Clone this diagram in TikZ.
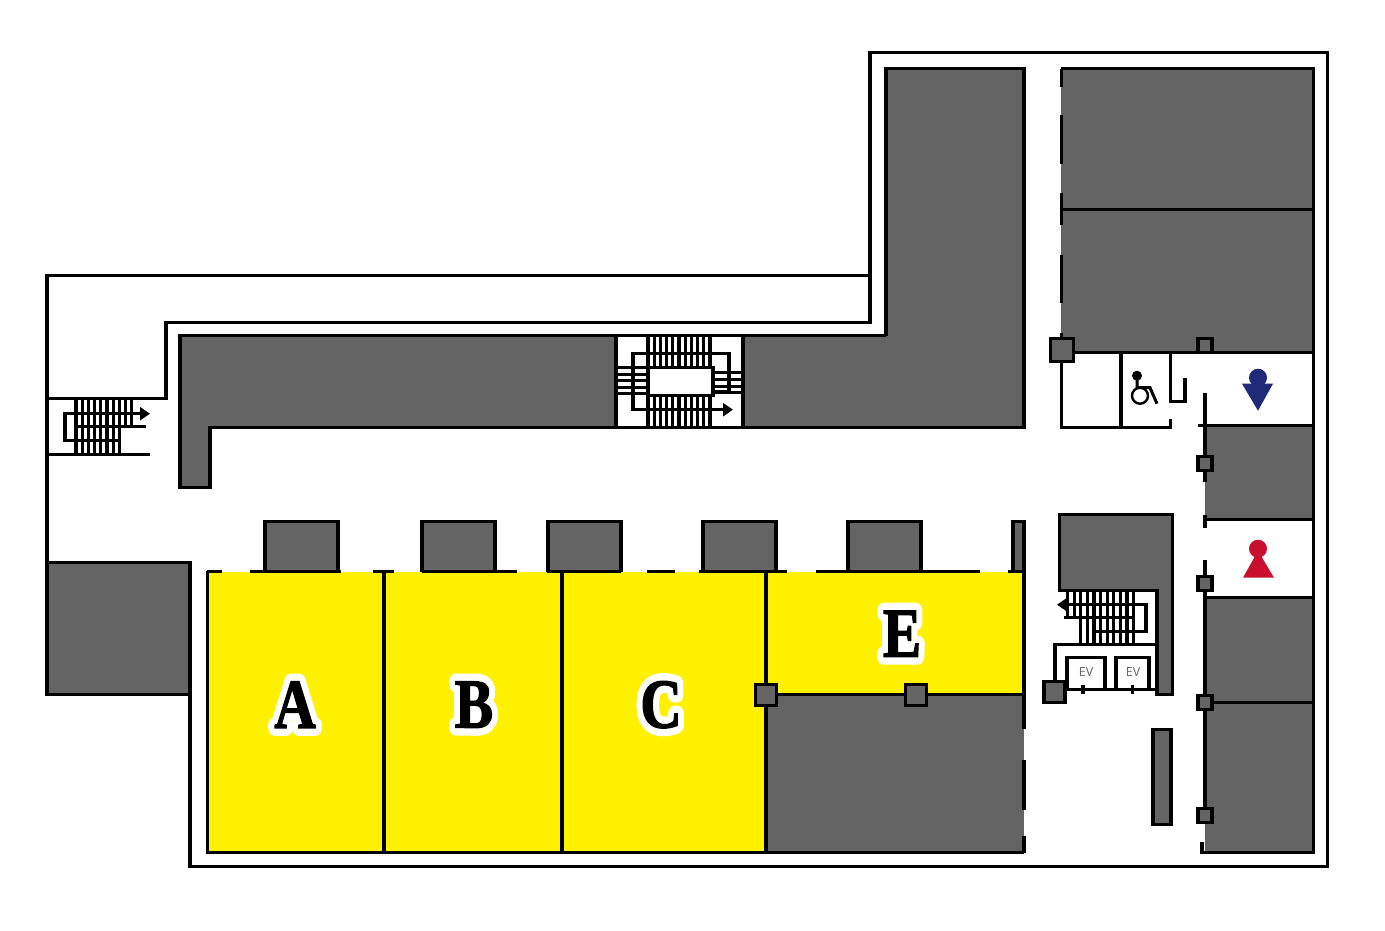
\documentclass[tikz,border=0pt]{standalone}
\usepackage{fontspec}
\setmainfont{Liberation Serif}
\setsansfont{Open Sans}
\newfontfamily\unitfont[FakeBold=2]{Liberation Serif Bold}
\newfontfamily\halofont[FakeBold=23]{Liberation Serif Bold}
\usetikzlibrary{arrows.meta}
\definecolor{roomgray}{HTML}{656464}
\definecolor{unityellow}{HTML}{FFF100}
\definecolor{menblue}{HTML}{1F2A78}
\definecolor{womenred}{HTML}{C8102E}
\newcommand{\unitlabel}[3]{
	\node[halo] (halo#3) at (#1,#2) {\special{pdf:code 1 j 1 J}\halofont\fontsize{70}{70}\selectfont #3};
	\node[unit] (unit#3) at (#1,#2) {\unitfont\fontsize{70}{70}\selectfont #3};
}
\begin{document}
\begin{tikzpicture}[x=1pt,y=-1pt,
wall/.style={line width=3.2pt,line cap=butt,line join=miter},
room/.style={fill=roomgray},
post/.style={fill=roomgray,draw=black,line width=3.2pt},
unit/.style={xscale=.82,inner sep=0pt},
halo/.style={unit,text=white},
ev/.style={font=\sffamily\fontsize{12.5}{13}\selectfont,text=black!60,inner sep=0pt},
rail/.style={line width=3.2pt,-{Triangle[length=10pt,width=13pt]}}]
\useasboundingbox (0,0.3) rectangle (1385,930.3);
\fill[white] (0,0.3) rectangle (1385,930.3);
% yellow units
\fill[unityellow] (207,572) rectangle (1024,853);
% gray rooms
\fill[room] (886,69) -- (1024,69) -- (1024,428) -- (210,428) -- (210,488) -- (180,488) -- (180,336) -- (886,336) -- cycle;
\fill[white] (616,336) rectangle (743,428);
\fill[room] (1061,69) rectangle (1313.5,353);
\fill[room] (1205,425) rectangle (1313.5,520);
\fill[room] (1205,598) rectangle (1313.5,853);
\fill[room] (766,695) rectangle (1024,853);
\fill[room] (47,563) rectangle (190,695);
% outer wall
\draw[wall] (47,563) -- (47,276) -- (870,276) -- (870,53) -- (1327.5,53) -- (1327.5,867) -- (190,867) -- (190,563) -- (47,563) -- (47,695) -- (190,695);
\draw[wall] (47,399) -- (166,399) -- (166,323) -- (870,323) -- (870,276);
% big L room
\draw[wall] (886,336) -- (886,69) -- (1024,69) -- (1024,428) -- (210,428) -- (210,488) -- (180,488) -- (180,336) -- (886,336);
\draw[wall] (616,336) -- (616,428) (743,336) -- (743,428);
% middle stairs
\foreach \x in {0,...,10} {
	\draw[wall] (648+6.2*\x,336) -- (648+6.2*\x,368);
	\draw[wall] (648+6.2*\x,397) -- (648+6.2*\x,428);
}
\foreach \y in {368,375,381,388,394}
	\draw[wall] (616,\y) -- (648,\y);
\foreach \y in {373,380,387,393}
	\draw[wall] (713,\y) -- (743,\y);
\draw[wall,fill=white] (648,368) rectangle (713,396);
\draw[wall] (713,392) -- (729,392) -- (729,354) -- (633,354) -- (633,368);
\draw[rail] (633,368) -- (633,410) -- (733,410);
% left stairs
\foreach \x in {0,...,9}
	\draw[wall] (76+6.2*\x,399) -- (76+6.2*\x,427);
\foreach \x in {0,...,7}
	\draw[wall] (76+6.2*\x,427) -- (76+6.2*\x,455);
\draw[wall] (47,455) -- (150,455);
\draw[wall] (76,427) -- (146,427);
\draw[rail] (120,441) -- (65,441) -- (65,414) -- (150,414);
% top right rooms
\draw[wall] (1061,69) -- (1313.5,69) -- (1313.5,853) -- (1202,853) -- (1202,842);
\draw[wall] (1061,209.5) -- (1313.5,209.5);
\draw[wall] (1061,353) -- (1313.5,353);
\foreach \a/\b in {69/87,115/164,193/225,255/303,333/345}
	\draw[wall] (1061.5,\a) -- (1061.5,\b);
% toilets
\draw[wall] (1061.5,353) -- (1061.5,428) -- (1170.5,428) -- (1170.5,419);
\draw[wall] (1121,353) -- (1121,428);
\draw[wall] (1170.5,353) -- (1170.5,402) -- (1185,402) -- (1185,378);
\draw[wall] (1205,393) -- (1205,482) (1205,515) -- (1205,528);
\draw[wall] (1198,425.5) -- (1313.5,425.5);
\draw[wall] (1205,520) -- (1313.5,520);
\draw[wall] (1205,560) -- (1205,807);
\draw[wall] (1205,598) -- (1313.5,598);
\draw[wall] (1205,703) -- (1313.5,703);
% wheelchair
\fill (1137,376) circle (5);
\draw[line width=2.4pt] (1140,396) circle (8);
\draw[line width=3pt] (1137,380) -- (1137,388) -- (1150,388) -- (1157,404);
% signs
\fill[menblue] (1258,378) circle (9);
\fill[menblue] (1242,384) -- (1273,384) -- (1258,411) -- cycle;
\fill[womenred] (1258,549) circle (9);
\fill[womenred] (1258,551) -- (1274,578) -- (1243,578) -- cycle;
% core with elevators
\draw[wall,room] (1059.5,515) -- (1172.5,515) -- (1172.5,695) -- (1157,695) -- (1157,591) -- (1059.5,591) -- cycle;
\foreach \x in {0,...,10}
	\draw[wall] (1067.5+6.6*\x,591) -- (1067.5+6.6*\x,618);
\foreach \x in {2,...,10}
	\draw[wall] (1067.5+6.6*\x,618) -- (1067.5+6.6*\x,645);
\draw[rail] (1092,632) -- (1146,632) -- (1146,605) -- (1057,605);
\draw[wall] (1064,618) -- (1135,618);
\draw[wall] (1157,645) -- (1055,645) -- (1055,682);
\draw[wall] (1054,689.5) -- (1157,689.5);
\draw[wall] (1067,689) -- (1067,658) -- (1105,658) -- (1105,689);
\draw[wall] (1116,689) -- (1116,658) -- (1149,658) -- (1149,689);
\draw[wall] (1083,685) -- (1083,694) (1132.5,685) -- (1132.5,694);
\node[ev] (eva) at (1086,672.5) {EV};
\node[ev] (evb) at (1133,672.5) {EV};
\draw[wall,room] (1153,729.5) rectangle (1171,825);
% front stores
\foreach \a/\b in {265/338,422/495,548/621,703/776,848/921,1013/1024}
	\draw[wall,room] (\a,572) -- (\a,522) -- (\b,522) -- (\b,572);
\foreach \a/\b in {207/222,250/341,373/394,422/517,547/621,647/675,699/787,816/980,1008/1024}
	\draw[wall] (\a,572) -- (\b,572);
\draw[wall] (207.5,571) -- (207.5,853) -- (1024,853);
\draw[wall] (384,572) -- (384,853) (562,572) -- (562,853) (766,572) -- (766,853);
\draw[wall] (766,695) -- (1024,695);
\foreach \a/\b in {572/729,760/810,836/853}
	\draw[wall] (1024,\a) -- (1024,\b);
% posts
\foreach \x/\y/\s in {1062/350/11.5,1054.5/692.5/10.5,766/695.5/10.5,916/695.5/10.5,1205/345.5/7,1205/464/7,1205/583.5/7,1205/703/7,1205/815.5/7}
	\draw[post] (\x-\s,\y-\s) rectangle (\x+\s,\y+\s);
% labels
\unitlabel{295}{705}{A}
\unitlabel{474}{705}{B}
\unitlabel{661}{705}{C}
\unitlabel{902}{634}{E}
\end{tikzpicture}
\end{document}
